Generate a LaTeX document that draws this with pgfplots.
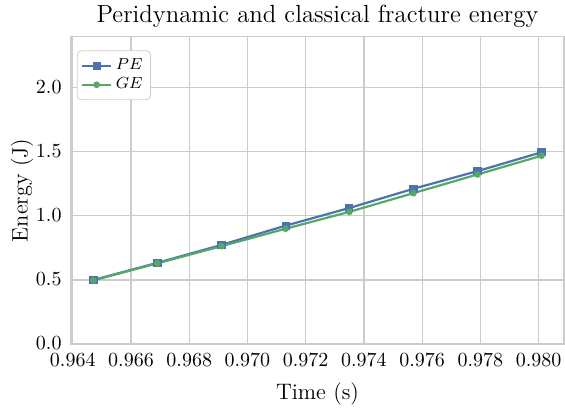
\documentclass[border=0pt]{standalone}
\usepackage{pgfplots}
\pgfplotsset{compat=1.18}
\definecolor{sbblue}{HTML}{4C72B0}
\definecolor{sbgreen}{HTML}{55A868}
\definecolor{sbgrid}{HTML}{CCCCCC}
\begin{document}
\begin{tikzpicture}
\begin{axis}[
  scale only axis, width=246.5pt, height=153.7pt,
  xmin=0.96394, xmax=0.98087, ymin=0, ymax=2.4,
  xtick={0.964,0.966,0.968,0.970,0.972,0.974,0.976,0.978,0.980},
  ytick={0,0.5,1,1.5,2},
  scaled x ticks=false,
  x tick label style={/pgf/number format/.cd, fixed, fixed zerofill, precision=3, /tikz/.cd, yshift=-1.2pt},
  y tick label style={/pgf/number format/.cd, fixed, fixed zerofill, precision=1, /tikz/.cd, xshift=-1.2pt, yshift=0.5pt},
  grid=major, major grid style={sbgrid, line width=0.55pt},
  axis line style={sbgrid, line width=0.6pt},
  major tick length=0pt,
  tick label style={font=\normalsize},
  title={Peridynamic and classical fracture energy},
  title style={font=\fontsize{12.4}{15}\selectfont, yshift=-5pt},
  xlabel={Time (s)}, ylabel={Energy (J)},
  label style={font=\fontsize{11.2}{13}\selectfont},
  xlabel style={yshift=-1.2pt},
  ylabel style={yshift=-5.5pt},
  legend style={font=\footnotesize, draw=sbgrid, rounded corners=2pt, at={(0.012,0.955)}, anchor=north west, inner sep=2pt, row sep=-1.5pt},
  legend cell align=left,
  legend image code/.code={\draw[mark repeat=2,mark phase=2] plot coordinates {(0cm,0cm) (0.25cm,0cm) (0.5cm,0cm)};},
]
\addplot[sbblue, line width=1.1pt, mark=square*, mark size=1.5pt, mark options={solid}] coordinates {
(0.96471,0.500) (0.96691,0.634) (0.96911,0.774) (0.97131,0.924) (0.97350,1.062) (0.97570,1.212) (0.97790,1.350) (0.98010,1.497)};
\addlegendentry{$PE$}
\addplot[sbgreen, line width=1.1pt, mark=*, mark size=1.1pt, mark options={solid}] coordinates {
(0.96471,0.497) (0.96691,0.630) (0.96911,0.764) (0.97131,0.900) (0.97350,1.032) (0.97570,1.178) (0.97790,1.324) (0.98010,1.470)};
\addlegendentry{$GE$}
\end{axis}
\pgfresetboundingbox
\path ([shift={(-35.5pt,-32pt)}]current axis.south west) rectangle ([shift={(0.5pt,18.3pt)}]current axis.north east);
\end{tikzpicture}
\end{document}
